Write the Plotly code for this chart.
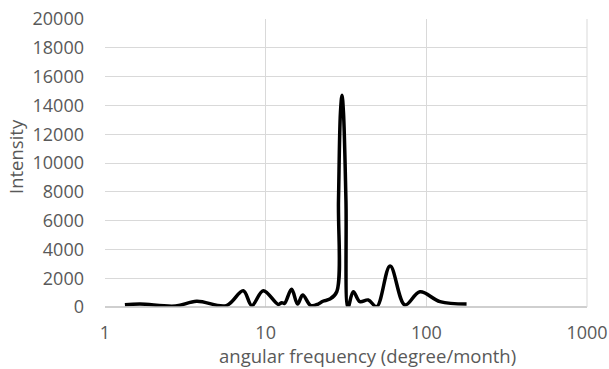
import plotly.graph_objects as go

# angular frequency (degree/month) and intensity
freq = [1.33, 1.65, 2.75, 3.72, 5.7, 7.25, 8.2, 9.66, 11.98, 12.6, 13.1, 14.5, 15.8,
        17.0, 19.1, 21.2, 22.7, 25.1, 27.7, 28.4, 29.2, 29.87, 30.5, 31.6, 32.55,
        35.1, 38.6, 43.5, 49.1, 59.5, 73.6, 91.2, 121.6, 178]
intensity = [150, 200, 70, 400, 100, 1130, 100, 1130, 180, 300, 250, 1230, 200,
             830, 100, 200, 400, 550, 1060, 7400, 13500, 14700, 13500, 7400, 0,
             1060, 370, 490, 20, 2850, 140, 1060, 370, 200]

x_ticks = [1, 10, 100, 1000]
x_tick_labels = ["1", "10", "100", "1000"]
y_ticks = list(range(0, 20001, 2000))
y_tick_labels = [str(v) for v in y_ticks]

FONT = "Open Sans"
GRAY = "#595959"
GRID = "#d9d9d9"
TICK_SIZE = 18
TITLE_SIZE = 18.5

fig = go.Figure()
fig.add_trace(go.Scatter(
    x=freq, y=intensity, mode="lines",
    line=dict(color="black", width=3.5, shape="spline", smoothing=1.0),
    showlegend=False, hoverinfo="skip",
))

fig.update_layout(
    width=609, height=369,
    margin=dict(l=105, r=22, t=19, b=62),
    paper_bgcolor="white", plot_bgcolor="white",
    font=dict(family=FONT, size=TICK_SIZE, color=GRAY),
    xaxis=dict(
        type="log", range=[0, 3], automargin=False,
        tickvals=x_ticks, ticktext=x_tick_labels,
        showgrid=True, gridcolor=GRID, gridwidth=1,
        showline=False, zeroline=False, ticks="",
        ticklabelstandoff=13,
        tickfont=dict(family=FONT, size=TICK_SIZE, color=GRAY),
    ),
    yaxis=dict(
        range=[0, 20000], automargin=False,
        tickvals=y_ticks, ticktext=y_tick_labels,
        showgrid=True, gridcolor=GRID, gridwidth=1,
        showline=False, zeroline=False, ticks="",
        ticklabelstandoff=20,
        tickfont=dict(family=FONT, size=TICK_SIZE, color=GRAY),
    ),
    shapes=[
        dict(type="line", xref="paper", yref="paper", x0=0, x1=1, y0=0, y1=0,
             line=dict(color="#bfbfbf", width=1.5)),
        dict(type="line", xref="paper", yref="paper", x0=1, x1=1, y0=0, y1=1,
             line=dict(color=GRID, width=1)),
    ],
    annotations=[
        dict(text="angular frequency (degree/month)", xref="paper", yref="paper",
             x=0.544, y=0, yshift=-48, xanchor="center", yanchor="middle",
             showarrow=False, font=dict(family=FONT, size=TITLE_SIZE, color=GRAY)),
        dict(text="Intensity", xref="paper", yref="paper", textangle=-90,
             x=0, xshift=-90, y=0.5, yshift=6, xanchor="center", yanchor="middle",
             showarrow=False, font=dict(family=FONT, size=TITLE_SIZE, color=GRAY)),
    ],
)

fig.write_html("out.html")
